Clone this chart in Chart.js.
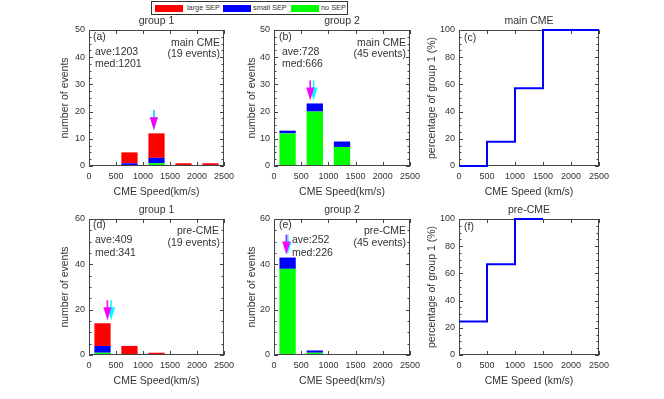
<!DOCTYPE html>
<html><head><meta charset="utf-8">
<script src="https://cdn.jsdelivr.net/npm/chart.js@4/dist/chart.umd.min.js"></script>
<style>
body{margin:0;background:#fff;width:664px;height:399px;position:relative;overflow:hidden;font-family:"Liberation Sans",Arial,sans-serif;}
canvas{position:absolute;}
#legend{position:absolute;left:151px;top:1px;width:195px;height:12px;border:1px solid #333;background:#fff;}
.sw{position:absolute;top:3px;width:28px;height:7px;}
.lt{position:absolute;top:1px;font-size:7.3px;line-height:10px;color:#333;white-space:nowrap;}
</style></head><body>
<div id="legend">
  <div class="sw" style="left:3px;background:#ff0000"></div><div class="lt" style="left:35px">large SEP</div>
  <div class="sw" style="left:71px;background:#0000ff"></div><div class="lt" style="left:101px">small SEP</div>
  <div class="sw" style="left:139px;background:#00ff00"></div><div class="lt" style="left:169px">no SEP</div>
</div>
<canvas id="ca"></canvas><canvas id="cb"></canvas><canvas id="cc"></canvas>
<canvas id="cd"></canvas><canvas id="ce"></canvas><canvas id="cf"></canvas>
<script>
// ---- data ----
const binCenters = [250, 750, 1250, 1750, 2250];
const binEdges = [0, 500, 1000, 1500, 2000, 2500];
const seriesNames = ['no SEP', 'small SEP', 'large SEP'];
// main CME, group 1
const g1MainNo = [0, 0, 1, 0, 0];
const g1MainSmall = [0, 1, 2, 0, 0];
const g1MainLarge = [0, 4, 9, 1, 1];
// main CME, group 2
const g2MainNo = [12, 20, 7, 0, 0];
const g2MainSmall = [1, 3, 2, 0, 0];
const g2MainLarge = [0, 0, 0, 0, 0];
// pre-CME, group 1
const g1PreNo = [1, 0, 0, 0, 0];
const g1PreSmall = [3, 0, 0, 0, 0];
const g1PreLarge = [10, 4, 1, 0, 0];
// pre-CME, group 2
const g2PreNo = [38, 1, 0, 0, 0];
const g2PreSmall = [5, 1, 0, 0, 0];
const g2PreLarge = [0, 0, 0, 0, 0];
// percentage of group 1 per bin
const pctMain = [0, 17.9, 57.1, 100, 100];
const pctPre = [24.6, 66.7, 100, null, null];
// statistics (ave, med)
const statsG1Main = [1203, 1201];
const statsG2Main = [728, 666];
const statsG1Pre = [409, 341];
const statsG2Pre = [252, 226];
const eventsG1 = 19, eventsG2 = 45;
const xTickStep = 500;

Chart.defaults.font.family = '"Liberation Sans", Arial, sans-serif';
Chart.defaults.color = '#333';

const colors = {'no SEP':'#00ff00','small SEP':'#0000ff','large SEP':'#ff0000'};
const TXT = '#333', FRAME = '#444';

function drawFrame(chart, p){
  const {ctx, chartArea:a} = chart; const xs = chart.scales.x, ys = chart.scales.y;
  ctx.save(); ctx.strokeStyle = FRAME; ctx.lineWidth = 1;
  ctx.strokeRect(a.left+0.5, a.top+0.5, a.right-a.left-1, a.bottom-a.top-1);
  ctx.beginPath();
  for (let v = xs.min; v <= xs.max; v += xTickStep){
    const x = Math.round(xs.getPixelForValue(v))+0.5;
    ctx.moveTo(x, a.bottom); ctx.lineTo(x, a.bottom-4);
    ctx.moveTo(x, a.top); ctx.lineTo(x, a.top+4);
  }
  for (let v = ys.min; v <= ys.max+1e-6; v += p.minor){
    const y = Math.round(ys.getPixelForValue(v))+0.5;
    const major = Math.abs(v/p.major - Math.round(v/p.major)) < 1e-6;
    const L = major ? 4 : 2.5;
    ctx.moveTo(a.left, y); ctx.lineTo(a.left+L, y);
    ctx.moveTo(a.right, y); ctx.lineTo(a.right-L, y);
  }
  ctx.stroke(); ctx.restore();
}
const AR = {len:20, headL:13, headW:4};
function drawShaft(ctx, x, tipY, color){
  ctx.strokeStyle = color; ctx.lineWidth = 1.6;
  ctx.beginPath(); ctx.moveTo(x, tipY-AR.len); ctx.lineTo(x, tipY-AR.headL+1); ctx.stroke();
}
function drawHead(ctx, x, tipY, color){
  ctx.fillStyle = color; ctx.beginPath();
  ctx.moveTo(x-AR.headW, tipY-AR.headL); ctx.lineTo(x+AR.headW, tipY-AR.headL); ctx.lineTo(x, tipY); ctx.closePath(); ctx.fill();
}
function drawTexts(chart, p){
  const {ctx, chartArea:a} = chart;
  ctx.save(); ctx.fillStyle = TXT; ctx.textBaseline = 'middle';
  const f = s => (s||10.5)+'px "Liberation Sans", Arial, sans-serif';
  ctx.font = f(); ctx.textAlign = 'center';
  ctx.fillText(p.title, (a.left+a.right)/2, a.top-9);
  ctx.fillText(p.xlabel, (a.left+a.right)/2, a.bottom+26);
  ctx.save(); ctx.translate(a.left+p.yoff, (a.top+a.bottom)/2); ctx.rotate(-Math.PI/2);
  ctx.fillText(p.ylabel, 0, 0); ctx.restore();
  (p.notes||[]).forEach(n => {
    ctx.textAlign = n.align || 'left';
    const x = n.align === 'right' ? a.right + n.dx : a.left + n.dx;
    ctx.fillText(n.t, x, a.top + n.dy);
  });
  ctx.restore();
}
const panelPlugin = {
  id: 'panel',
  beforeDatasetsDraw(chart){ const p = chart.options.plugins.panel; if (p.frameFirst) drawFrame(chart, p); },
  afterDatasetsDraw(chart){
    const p = chart.options.plugins.panel; const ctx = chart.ctx;
    if (!p.frameFirst) drawFrame(chart, p);
    if (p.stats){
      const xs = chart.scales.x, ys = chart.scales.y;
      const tipFor = v => {
        let i = 0; while (i < binEdges.length-2 && v >= binEdges[i+1]) i++;
        let tot = 0; chart.data.datasets.forEach(d => tot += d.data[i].y);
        return ys.getPixelForValue(tot) - 3;
      };
      const xa = xs.getPixelForValue(p.stats[0]), ya = tipFor(p.stats[0]);
      const xm = xs.getPixelForValue(p.stats[1]), ym = tipFor(p.stats[1]);
      ctx.save();
      drawShaft(ctx, xm, ym, '#ff00ff');
      drawShaft(ctx, xa, ya, '#00ffff');
      drawHead(ctx, xa, ya, '#00ffff');
      drawHead(ctx, xm, ym, '#ff00ff');
      ctx.restore();
    }
    drawTexts(chart, p);
  }
};

function place(id, L, T, W, H){
  const c = document.getElementById(id);
  const cw = W + 50 + 15, ch = H + 25 + 35;
  c.width = cw; c.height = ch; c.style.left = (L-50)+'px'; c.style.top = (T-25)+'px';
  c.style.width = cw+'px'; c.style.height = ch+'px';
  return c;
}
function scales(ymax, ystep){
  return {
    x: { type:'linear', min:0, max:2500, stacked:true, offset:false,
         grid:{display:false, drawTicks:false}, border:{display:false},
         ticks:{stepSize:500, autoSkip:false, maxRotation:0, padding:5, color:TXT, font:{size:9},
                callback: v => String(v)},
         afterFit: s => { s.height = 35; } },
    y: { min:0, max:ymax, stacked:true,
         grid:{display:false, drawTicks:false}, border:{display:false},
         ticks:{stepSize:ystep, padding:4, color:TXT, font:{size:9}, callback: v => String(v)},
         afterFit: s => { s.width = 50; } }
  };
}
function barPanel(id, L, T, W, H, no, small, large, ymax, ystep, minor, panel){
  const c = place(id, L, T, W, H);
  const series = {'no SEP':no, 'small SEP':small, 'large SEP':large};
  new Chart(c, {
    type:'bar',
    data:{ datasets: seriesNames.map(n => ({
      label:n, data: binCenters.map((x,i) => ({x, y: series[n][i]})),
      backgroundColor: colors[n], borderWidth:0,
      barPercentage:0.6, categoryPercentage:1 })) },
    options:{ responsive:false, animation:false, devicePixelRatio:1,
      layout:{padding:{top:25, right:15, left:0, bottom:0}},
      scales: scales(ymax, ystep),
      plugins:{ legend:{display:false}, tooltip:{enabled:false},
        panel: Object.assign({major:ystep, minor, frameFirst:false}, panel) } },
    plugins:[panelPlugin]
  });
}
function stepPanel(id, L, T, W, H, pct, panel){
  const c = place(id, L, T, W, H);
  const pts = [];
  pct.forEach((v,i) => { if (v !== null){ pts.push({x:binEdges[i], y:v}); pts.push({x:binEdges[i+1], y:v}); } });
  new Chart(c, {
    type:'line',
    data:{ datasets:[{ data:pts, borderColor:'#0000ff', borderWidth:2, pointRadius:0, fill:false, tension:0, clip:false }] },
    options:{ responsive:false, animation:false, devicePixelRatio:1,
      layout:{padding:{top:25, right:15, left:0, bottom:0}},
      scales: scales(100, 20),
      plugins:{ legend:{display:false}, tooltip:{enabled:false},
        panel: Object.assign({major:20, minor:5, frameFirst:true}, panel) } },
    plugins:[panelPlugin]
  });
}

const XL = 'CME Speed(km/s)', YL = 'number of events';
barPanel('ca', 89, 30, 135, 136, g1MainNo, g1MainSmall, g1MainLarge, 50, 10, 2.5, {
  title:'group 1', xlabel:XL, ylabel:YL, yoff:-24, stats:statsG1Main,
  notes:[{t:'(a)',dx:4,dy:7},{t:'ave:'+statsG1Main[0],dx:6,dy:22},{t:'med:'+statsG1Main[1],dx:6,dy:34},
         {t:'main CME',align:'right',dx:-4,dy:13},{t:'('+eventsG1+' events)',align:'right',dx:-4,dy:24}]});
barPanel('cb', 274, 30, 136, 136, g2MainNo, g2MainSmall, g2MainLarge, 50, 10, 2.5, {
  title:'group 2', xlabel:XL, ylabel:YL, yoff:-22, stats:statsG2Main,
  notes:[{t:'(b)',dx:5,dy:7},{t:'ave:'+statsG2Main[0],dx:8,dy:22},{t:'med:'+statsG2Main[1],dx:8,dy:34},
         {t:'main CME',align:'right',dx:-4,dy:13},{t:'('+eventsG2+' events)',align:'right',dx:-4,dy:24}]});
stepPanel('cc', 459, 30, 140, 136, pctMain, {
  title:'main CME', xlabel:'CME Speed (km/s)', ylabel:'percentage of group 1 (%)', yoff:-27,
  notes:[{t:'(c)',dx:5,dy:8}]});
barPanel('cd', 89, 219, 135, 136, g1PreNo, g1PreSmall, g1PreLarge, 60, 20, 5, {
  title:'group 1', xlabel:XL, ylabel:YL, yoff:-24, stats:statsG1Pre,
  notes:[{t:'(d)',dx:4,dy:6},{t:'ave:'+statsG1Pre[0],dx:6,dy:21},{t:'med:'+statsG1Pre[1],dx:6,dy:34},
         {t:'pre-CME',align:'right',dx:-5,dy:12},{t:'('+eventsG1+' events)',align:'right',dx:-4,dy:24}]});
barPanel('ce', 274, 219, 136, 136, g2PreNo, g2PreSmall, g2PreLarge, 60, 20, 5, {
  title:'group 2', xlabel:XL, ylabel:YL, yoff:-22, stats:statsG2Pre,
  notes:[{t:'(e)',dx:5,dy:6},{t:'ave:'+statsG2Pre[0],dx:18,dy:21},{t:'med:'+statsG2Pre[1],dx:18,dy:34},
         {t:'pre-CME',align:'right',dx:-4,dy:12},{t:'('+eventsG2+' events)',align:'right',dx:-4,dy:24}]});
stepPanel('cf', 459, 219, 140, 136, pctPre, {
  title:'pre-CME', xlabel:'CME Speed (km/s)', ylabel:'percentage of group 1 (%)', yoff:-27,
  notes:[{t:'(f)',dx:5,dy:8}]});
</script>
</body></html>
